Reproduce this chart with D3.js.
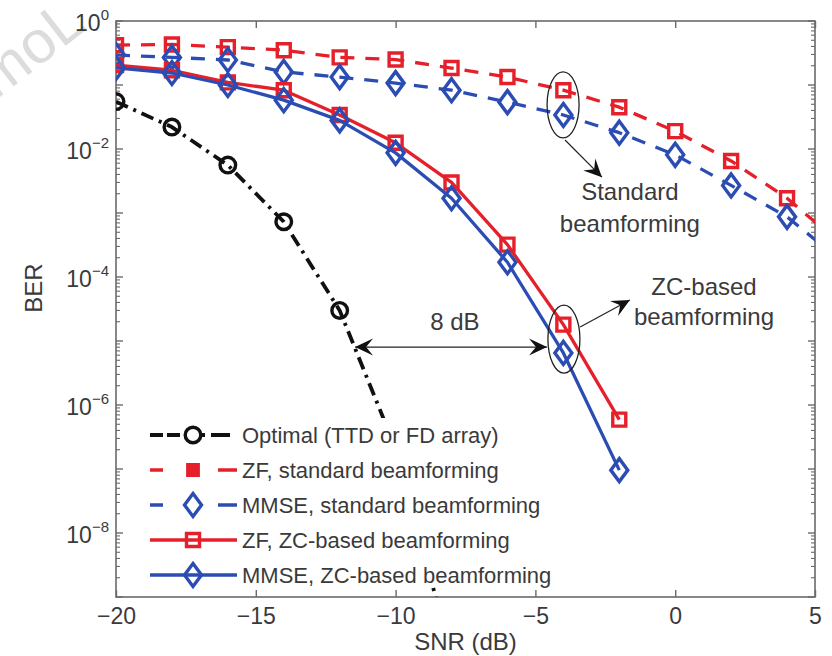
<!DOCTYPE html>
<html>
<head>
<meta charset="utf-8">
<script src="https://cdn.jsdelivr.net/npm/d3@7"></script>
<style>
  html, body { margin: 0; padding: 0; background: #fff; }
  svg { display: block; font-family: "Liberation Sans", Arial, Helvetica, sans-serif; }
</style>
</head>
<body>
<svg id="chart" width="832" height="656"></svg>
<script>
// ---------------- DATA ----------------
const snrZC = [-20, -18, -16, -14, -12, -10, -8, -6, -4, -2];
const snrStd = [-20, -18, -16, -14, -12, -10, -8, -6, -4, -2, 0, 2, 4, 6];
const snrOpt = [-20, -18, -16, -14, -12, -10, -8];

const berOptimal = [0.055, 0.022, 0.0056, 7.3e-4, 3.0e-5, 2.1e-7, 1.2e-10];
const berZFStd   = [0.42, 0.43, 0.39, 0.35, 0.27, 0.25, 0.184, 0.133, 0.083, 0.045, 0.019, 0.0065, 0.0017, 3.1e-4];
const berMMSEStd = [0.295, 0.27, 0.246, 0.16, 0.133, 0.107, 0.083, 0.054, 0.034, 0.018, 0.0081, 0.0027, 8.7e-4, 1.7e-4];
const berZFZC    = [0.205, 0.17, 0.11, 0.083, 0.034, 0.0125, 0.003, 3.2e-4, 1.8e-5, 5.9e-7];
const berMMSEZC  = [0.185, 0.154, 0.1, 0.058, 0.028, 0.0087, 0.0017, 1.7e-4, 6.5e-6, 9.6e-8];

const seriesNames = [
  "Optimal (TTD or FD array)",
  "ZF, standard beamforming",
  "MMSE, standard beamforming",
  "ZF, ZC-based beamforming",
  "MMSE, ZC-based beamforming"
];

const xTicks = [-20, -15, -10, -5, 0, 5];
const yLabelExps = [0, -2, -4, -6, -8];
const xDomain = [-20, 5];
const yDomain = [1e-9, 1];
const xLabel = "SNR (dB)";
const yLabel = "BER";

// annotations in data coordinates
const gapArrow = { x1: -11.45, x2: -4.585, y: 8.05e-6, label: "8 dB", lx: -7.88, ly: 1.48e-5 };
const stdNote = { ex: -4.01, ey: Math.pow(10, -1.31), ax1: -3.94, ay1: Math.pow(10, -1.86), ax2: -2.62, ay2: Math.pow(10, -2.44),
                  tx: -1.62, lines: [["Standard", Math.pow(10, -2.80)], ["beamforming", Math.pow(10, -3.30)]] };
const zcNote = { ex: -3.98, ey: Math.pow(10, -4.97), ax1: -3.40, ay1: Math.pow(10, -4.78), ax2: -1.62, ay2: Math.pow(10, -4.36),
                 tx: 1.03, lines: [["ZC-based", Math.pow(10, -4.28)], ["beamforming", Math.pow(10, -4.75)]] };

// ---------------- STYLE ----------------
const RED = "#e5202b", BLUE = "#2b4db3", BLACK = "#111";
const AXIS = "#6a6a6a", TEXT = "#3a3a3a";
const M = { left: 116, right: 815, top: 21, bottom: 597 };

const svg = d3.select("#chart");
const x = d3.scaleLinear().domain(xDomain).range([M.left, M.right]);
const y = d3.scaleLog().domain(yDomain).range([M.bottom, M.top]);

// watermark (partly outside the picture, as in the reference)
svg.append("text")
  .attr("transform", "translate(-4,100) rotate(-38)")
  .attr("font-size", 60).attr("fill", "#dcdcdc")
  .text("moL");

// clip
svg.append("defs").append("clipPath").attr("id", "clip")
  .append("rect").attr("x", M.left).attr("y", M.top)
  .attr("width", M.right - M.left).attr("height", M.bottom - M.top);

// ---------------- AXES (box with inward ticks) ----------------
svg.append("rect").attr("x", M.left).attr("y", M.top)
  .attr("width", M.right - M.left).attr("height", M.bottom - M.top)
  .attr("fill", "none").attr("stroke", AXIS).attr("stroke-width", 1.6);

const gxb = svg.append("g").attr("transform", `translate(0,${M.bottom})`)
  .call(d3.axisBottom(x).tickValues(xTicks).tickSizeInner(-7).tickSizeOuter(0)
        .tickFormat(d => d < 0 ? "\u2212" + Math.abs(d) : String(d)));
gxb.select(".domain").remove();
gxb.selectAll(".tick line").attr("stroke", AXIS).attr("stroke-width", 1.4);
gxb.selectAll(".tick text").attr("font-size", 23).attr("fill", TEXT)
  .attr("y", 27).attr("dy", 0).attr("font-family", "Liberation Sans, Arial, sans-serif");

const gxt = svg.append("g").attr("transform", `translate(0,${M.top})`)
  .call(d3.axisTop(x).tickValues(xTicks).tickSizeInner(-7).tickSizeOuter(0).tickFormat(""));
gxt.select(".domain").remove();
gxt.selectAll(".tick line").attr("stroke", AXIS).attr("stroke-width", 1.4);

const majors = d3.range(-9, 1).map(e => Math.pow(10, e));
const minors = [];
d3.range(-9, 0).forEach(e => { for (let k = 2; k <= 9; k++) minors.push(k * Math.pow(10, e)); });

function yTicksOn(side) {
  const dir = side === "left" ? 1 : -1;
  const x0 = side === "left" ? M.left : M.right;
  const g = svg.append("g");
  g.selectAll("line.maj").data(majors).join("line")
    .attr("x1", x0).attr("x2", x0 + dir * 7)
    .attr("y1", d => y(d)).attr("y2", d => y(d))
    .attr("stroke", AXIS).attr("stroke-width", 1.4);
  g.selectAll("line.min").data(minors).join("line")
    .attr("x1", x0).attr("x2", x0 + dir * 4)
    .attr("y1", d => y(d)).attr("y2", d => y(d))
    .attr("stroke", AXIS).attr("stroke-width", 1.1);
}
yTicksOn("left");
yTicksOn("right");

const yl = svg.append("g");
yLabelExps.forEach(e => {
  const t = yl.append("text").attr("text-anchor", "end")
    .attr("x", 109).attr("y", y(Math.pow(10, e)) + 10)
    .attr("fill", TEXT).attr("font-size", 23);
  t.append("tspan").text("10");
  t.append("tspan").attr("font-size", 15).attr("dy", -11)
    .text(e < 0 ? "\u2212" + Math.abs(e) : String(e));
});

svg.append("text").attr("x", (M.left + M.right) / 2).attr("y", 650)
  .attr("text-anchor", "middle").attr("font-size", 24).attr("fill", TEXT).text(xLabel);
svg.append("text").attr("transform", "translate(42,288) rotate(-90)")
  .attr("text-anchor", "middle").attr("font-size", 24).attr("fill", TEXT).text(yLabel);

// ---------------- SERIES ----------------
const series = [
  { name: seriesNames[0], xs: snrOpt, ys: berOptimal, color: BLACK, dash: "13,6,3,6", marker: "circle", w: 3.8 },
  { name: seriesNames[1], xs: snrStd, ys: berZFStd, color: RED, dash: "14,11", marker: "square", w: 3.3 },
  { name: seriesNames[2], xs: snrStd, ys: berMMSEStd, color: BLUE, dash: "14,11", marker: "diamond", w: 3.3 },
  { name: seriesNames[3], xs: snrZC, ys: berZFZC, color: RED, dash: null, marker: "square", w: 3.3 },
  { name: seriesNames[4], xs: snrZC, ys: berMMSEZC, color: BLUE, dash: null, marker: "diamond", w: 3.3 }
];

function markerPath(type, s) {
  s = s || 1;
  if (type === "square") return `M${-6.5*s},${-6.5*s}H${6.5*s}V${6.5*s}H${-6.5*s}Z`;
  if (type === "diamond") return "M0,-11.5L8.5,0L0,11.5L-8.5,0Z";
  return d3.symbol(d3.symbolCircle, Math.PI * 7.8 * 7.8)();
}

const plot = svg.append("g").attr("clip-path", "url(#clip)");
const line = d3.line().x(d => x(d[0])).y(d => y(d[1]));

series.forEach(s => {
  const pts = s.xs.map((v, i) => [v, s.ys[i]]);
  plot.append("path").datum(pts).attr("d", line)
    .attr("fill", "none").attr("stroke", s.color).attr("stroke-width", s.w)
    .attr("stroke-dasharray", s.dash).attr("stroke-linejoin", "round");
  plot.selectAll(null).data(pts.filter(p => p[0] <= xDomain[1] && p[1] >= yDomain[0])).join("path")
    .attr("d", markerPath(s.marker))
    .attr("transform", d => `translate(${x(d[0])},${y(d[1])})`)
    .attr("fill", "none").attr("stroke", s.color).attr("stroke-width", 3.4);
});

// ---------------- LEGEND ----------------
const lg = svg.append("g");
const lgTop = 418, lgRow = 35, lgX0 = 150, lgX1 = 237, lgMk = 193;
lg.append("rect").attr("x", 143).attr("y", lgTop).attr("width", 425).attr("height", 168).attr("fill", "#fff");
series.forEach((s, i) => {
  const cy = lgTop + 17 + i * lgRow;
  lg.append("line").attr("x1", lgX0).attr("x2", lgX1).attr("y1", cy).attr("y2", cy)
    .attr("stroke", s.color).attr("stroke-width", s.w)
    .attr("stroke-dasharray", s.dash ? (s.marker === "circle" ? "13,4,13,22,3,6,19" : "13,55,19") : null);
  const std = s.dash && s.marker === "square";
  lg.append("path").attr("d", markerPath(s.marker, std ? 0.8 : 1))
    .attr("transform", `translate(${lgMk},${cy})`)
    .attr("fill", std ? s.color : "none").attr("stroke", s.color).attr("stroke-width", 3.4);
  lg.append("text").attr("x", 242).attr("y", cy + 8).attr("font-size", 22)
    .attr("fill", TEXT).text(s.name);
});

// ---------------- ANNOTATIONS ----------------
const ann = svg.append("g");
function arrowHead(xt, yt, xf, yf) {
  const a = Math.atan2(yt - yf, xt - xf);
  const L = 18, W = 8.5, N = 11;
  const pts = [[0, 0], [-L, -W], [-N, 0], [-L, W]].map(([u, v]) =>
    [xt + u * Math.cos(a) - v * Math.sin(a), yt + u * Math.sin(a) + v * Math.cos(a)]);
  ann.append("path").attr("d", "M" + pts.map(p => p.join(",")).join("L") + "Z").attr("fill", BLACK);
}
function arrow(x1, y1, x2, y2, both) {
  ann.append("line").attr("x1", x1).attr("y1", y1).attr("x2", x2).attr("y2", y2)
    .attr("stroke", "#222").attr("stroke-width", 1.2);
  arrowHead(x2, y2, x1, y1);
  if (both) arrowHead(x1, y1, x2, y2);
}

arrow(x(gapArrow.x1), y(gapArrow.y), x(gapArrow.x2), y(gapArrow.y), true);
ann.append("text").attr("x", x(gapArrow.lx)).attr("y", y(gapArrow.ly))
  .attr("text-anchor", "middle").attr("font-size", 24).attr("fill", TEXT).text(gapArrow.label);

[[stdNote, 33], [zcNote, 34]].forEach(([n, ry]) => {
  ann.append("ellipse").attr("cx", x(n.ex)).attr("cy", y(n.ey)).attr("rx", 16).attr("ry", ry)
    .attr("fill", "none").attr("stroke", "#222").attr("stroke-width", 1.3);
  arrow(x(n.ax1), y(n.ay1), x(n.ax2), y(n.ay2), false);
  n.lines.forEach(([t, v]) => {
    ann.append("text").attr("x", x(n.tx)).attr("y", y(v)).attr("text-anchor", "middle")
      .attr("font-size", 24).attr("fill", TEXT).text(t);
  });
});
</script>
</body>
</html>
